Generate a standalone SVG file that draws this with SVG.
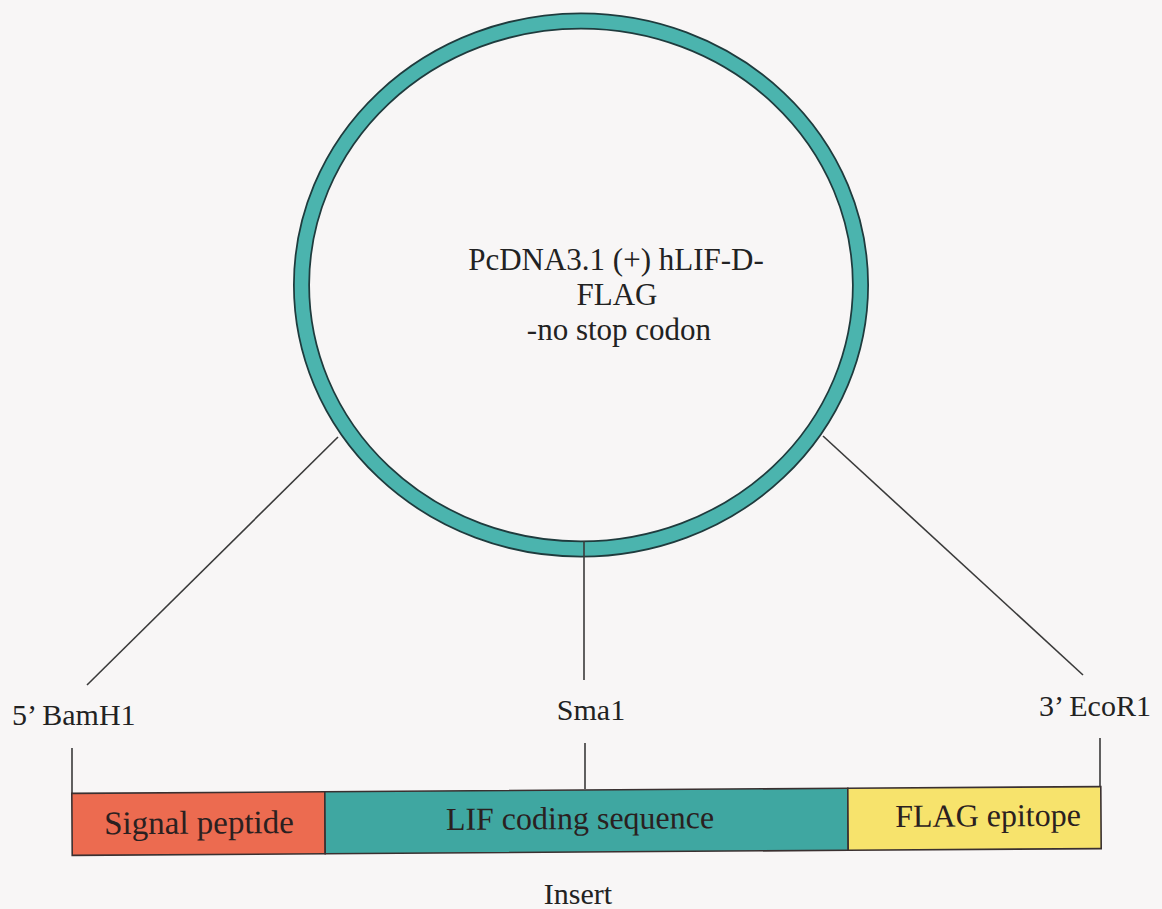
<svg xmlns="http://www.w3.org/2000/svg" width="1162" height="909" viewBox="0 0 1162 909">
  <style>
    .lbl { font-family: "Liberation Serif", "Times New Roman", serif; font-size: 30px; fill: #222; }
    .mid { text-anchor: middle; }
    .bar-lbl { font-family: "Liberation Serif", "Times New Roman", serif; font-size: 32px; fill: #2a2020; text-anchor: middle; }
    .wire { stroke: #3a3a3a; stroke-width: 1.6; fill: none; }
    .seg { stroke: #3a3030; stroke-width: 1.6; }
  </style>

  <rect width="1162" height="909" fill="#f8f6f6"/>

  <!-- plasmid ring -->
  <g id="plasmid">
    <ellipse cx="581" cy="285" rx="279.5" ry="264" fill="none" stroke="#1f3b3d" stroke-width="17"/>
    <ellipse cx="581" cy="285" rx="279.5" ry="264" fill="none" stroke="#4bb4ae" stroke-width="13.5"/>
    <text class="lbl mid" x="616" y="270" style="font-size:31px">PcDNA3.1 (+) hLIF-D-</text>
    <text class="lbl mid" x="617" y="305" style="font-size:31px">FLAG</text>
    <text class="lbl mid" x="619" y="340" style="font-size:31px">-no stop codon</text>
  </g>

  <!-- lines from the ring to the site labels, and ticks to the insert -->
  <g id="connectors">
    <line class="wire" x1="338" y1="437" x2="87" y2="685"/>
    <line class="wire" x1="584" y1="541" x2="584" y2="680"/>
    <line class="wire" x1="823" y1="436" x2="1083" y2="675"/>
    <line class="wire" x1="72" y1="748" x2="72" y2="793"/>
    <line class="wire" x1="585" y1="743" x2="585" y2="789"/>
    <line class="wire" x1="1100" y1="738" x2="1100" y2="786"/>
  </g>

  <g id="site-bamh1"><text class="lbl" x="12" y="725">5’ BamH1</text></g>
  <g id="site-sma1"><text class="lbl mid" x="591" y="720">Sma1</text></g>
  <g id="site-ecor1"><text class="lbl" x="1039" y="716">3’ EcoR1</text></g>

  <!-- insert bar -->
  <g id="insert" transform="rotate(-0.38 586 820)">
    <g id="signal-peptide">
      <rect class="seg" x="72" y="790" width="253" height="62" fill="#ec6b50"/>
      <text class="bar-lbl" x="199" y="831" style="font-size:33px">Signal peptide</text>
    </g>
    <g id="lif-coding">
      <rect class="seg" x="325" y="790" width="523" height="62" fill="#3fa7a1"/>
      <text class="bar-lbl" x="580" y="829">LIF coding sequence</text>
    </g>
    <g id="flag-epitope">
      <rect class="seg" x="848" y="790" width="253" height="62" fill="#f7e36c"/>
      <text class="bar-lbl" x="988" y="829">FLAG epitope</text>
    </g>
  </g>
  <g id="insert-label"><text class="lbl mid" x="578" y="904">Insert</text></g>
</svg>
